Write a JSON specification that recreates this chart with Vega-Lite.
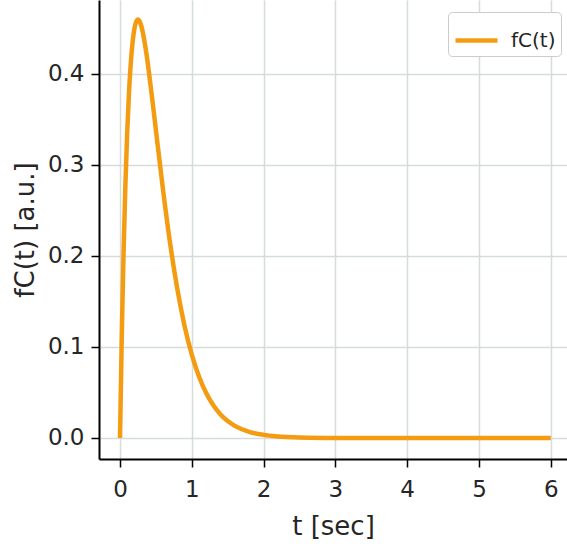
{
  "$schema": "https://vega.github.io/schema/vega-lite/v6.json",
  "width": 468,
  "height": 459,
  "autosize": {"type": "none"},
  "padding": {"left": 99, "top": 0, "right": 0, "bottom": 87},
  "background": "white",
  "config": {
    "view": {"stroke": null},
    "font": "DejaVu Sans"
  },
  "data": {
    "values": [
      {"t": 0, "f": 0},
      {"t": 0.025, "f": 0.1131},
      {"t": 0.05, "f": 0.2047},
      {"t": 0.075, "f": 0.2778},
      {"t": 0.1, "f": 0.3352},
      {"t": 0.125, "f": 0.3791},
      {"t": 0.15, "f": 0.4116},
      {"t": 0.175, "f": 0.4345},
      {"t": 0.2, "f": 0.4493},
      {"t": 0.225, "f": 0.4574},
      {"t": 0.25, "f": 0.4598},
      {"t": 0.275, "f": 0.4577},
      {"t": 0.3, "f": 0.4518},
      {"t": 0.35, "f": 0.4316},
      {"t": 0.4, "f": 0.4038},
      {"t": 0.45, "f": 0.3719},
      {"t": 0.5, "f": 0.3383},
      {"t": 0.6, "f": 0.2722},
      {"t": 0.7, "f": 0.2128},
      {"t": 0.8, "f": 0.163},
      {"t": 0.9, "f": 0.1229},
      {"t": 1.0, "f": 0.0916},
      {"t": 1.1, "f": 0.0675},
      {"t": 1.2, "f": 0.0494},
      {"t": 1.3, "f": 0.0359},
      {"t": 1.4, "f": 0.0259},
      {"t": 1.5, "f": 0.0186},
      {"t": 1.6, "f": 0.0133},
      {"t": 1.8, "f": 0.0067},
      {"t": 2.0, "f": 0.0034},
      {"t": 2.2, "f": 0.0017},
      {"t": 2.5, "f": 0.0006},
      {"t": 3.0, "f": 0.0001},
      {"t": 4.0, "f": 0},
      {"t": 5.0, "f": 0},
      {"t": 6.0, "f": 0}
    ]
  },
  "mark": {"type": "line", "strokeWidth": 4.5, "interpolate": "monotone", "clip": true},
  "encoding": {
    "x": {
      "field": "t",
      "type": "quantitative",
      "scale": {"domain": [-0.2925, 6.226], "nice": false, "zero": false},
      "axis": {
        "title": "t [sec]",
        "values": [0, 1, 2, 3, 4, 5, 6],
        "format": "d",
        "labelFontSize": 23,
        "labelColor": "#262626",
        "labelPadding": 11,
        "titleFontSize": 26,
        "titleFontWeight": "normal",
        "titleColor": "#262626",
        "titlePadding": 12,
        "domainColor": "#000000",
        "domainWidth": 2,
        "tickColor": "#000000",
        "tickWidth": 1.5,
        "tickSize": 8,
        "gridColor": "#d5dcdc",
        "gridWidth": 1.5,
        "labelFlush": false
      }
    },
    "y": {
      "field": "f",
      "type": "quantitative",
      "scale": {"domain": [-0.0231, 0.4813], "nice": false, "zero": false},
      "axis": {
        "title": "fC(t) [a.u.]",
        "values": [0, 0.1, 0.2, 0.3, 0.4],
        "format": ".1f",
        "labelFontSize": 23,
        "labelColor": "#262626",
        "labelPadding": 7,
        "titleFontSize": 26,
        "titleFontWeight": "normal",
        "titleColor": "#262626",
        "titlePadding": 9,
        "domainColor": "#000000",
        "domainWidth": 2,
        "tickColor": "#000000",
        "tickWidth": 1.5,
        "tickSize": 8,
        "gridColor": "#d5dcdc",
        "gridWidth": 1.5,
        "labelFlush": false
      }
    },
    "color": {
      "datum": "fC(t)",
      "type": "nominal",
      "scale": {"range": ["#f39c12"]},
      "legend": {
        "title": null,
        "orient": "none",
        "legendX": 349,
        "legendY": 12,
        "symbolType": "stroke",
        "symbolSize": 1764,
        "symbolStrokeWidth": 4.5,
        "labelFontSize": 20,
        "labelColor": "#262626",
        "labelOffset": 11,
        "padding": 5,
        "cornerRadius": 4,
        "strokeColor": "#cccccc",
        "fillColor": "white"
      }
    }
  }
}
